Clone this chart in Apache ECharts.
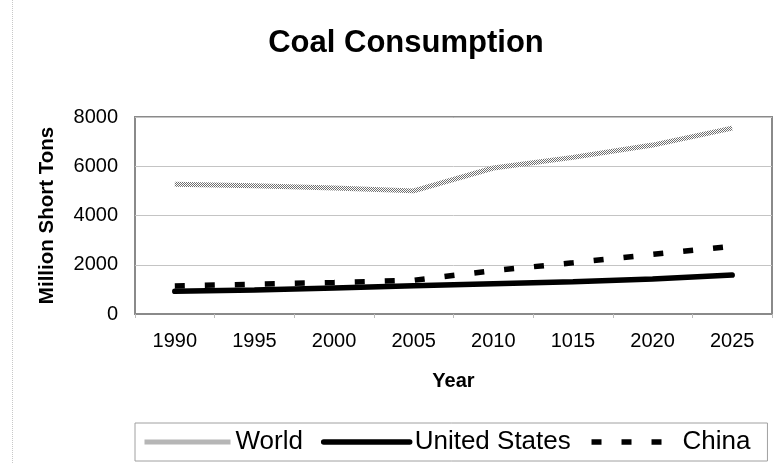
<!DOCTYPE html>
<html>
<head>
<meta charset="utf-8">
<script src="https://cdn.jsdelivr.net/npm/echarts@6/dist/echarts.min.js"></script>
<style>
  html, body { margin: 0; padding: 0; background: #fff; }
  #chart { width: 778px; height: 464px; }
</style>
</head>
<body>
<div id="chart"></div>
<script>
// Coal consumption, million short tons
const years = ['1990', '1995', '2000', '2005', '2010', '1015', '2020', '2025'];
const world = [5270, 5210, 5120, 5000, 5930, 6360, 6860, 7550];
const unitedStates = [920, 970, 1060, 1150, 1230, 1310, 1420, 1580];
const china = [1140, 1210, 1280, 1370, 1760, 2080, 2420, 2750];
const yTicks = [0, 2000, 4000, 6000, 8000];

const FONT = '"Liberation Sans", Arial, sans-serif';

// Speckled grey texture for the World line
function speckle() {
  const c = document.createElement('canvas');
  c.width = 2; c.height = 2;
  const g = c.getContext('2d');
  g.fillStyle = '#ffffff';
  g.fillRect(0, 0, 2, 2);
  g.fillStyle = '#6e6e6e';
  g.fillRect(0, 0, 1, 1);
  g.fillRect(1, 1, 1, 1);
  return c;
}
const worldColor = { image: speckle(), repeat: 'repeat' };

const chart = echarts.init(document.getElementById('chart'), null, { renderer: 'canvas' });

chart.setOption({
  backgroundColor: '#ffffff',
  animation: false,
  title: {
    text: 'Coal Consumption',
    left: 401, top: 23, textAlign: 'center',
    textStyle: { fontFamily: FONT, fontSize: 31, fontWeight: 'bold', color: '#000' }
  },
  graphic: [{
    type: 'line',
    shape: { x1: 12.5, y1: 0, x2: 12.5, y2: 464 },
    style: { stroke: '#c8c8c8', lineWidth: 1, lineDash: [1, 1] },
    silent: true
  }],
  grid: {
    left: 135, right: 6, top: 117, bottom: 150,
    show: true, borderColor: '#8a8a8a', borderWidth: 2, backgroundColor: '#fff'
  },
  legend: {
    left: 135, top: 423,
    padding: [6, 17, 6, 7],
    borderColor: '#a0a0a0', borderWidth: 1,
    itemWidth: 86, itemHeight: 14, itemGap: 18,
    itemStyle: { opacity: 0 },
    lineStyle: { width: 'inherit', type: 'inherit' },
    textStyle: { fontFamily: FONT, fontSize: 26, color: '#000' },
    data: ['World', 'United States', 'China']
  },
  xAxis: {
    type: 'category',
    data: years,
    boundaryGap: true,
    name: 'Year',
    nameLocation: 'middle',
    nameGap: 57,
    nameTextStyle: { fontFamily: FONT, fontSize: 20, fontWeight: 'bold', color: '#000' },
    axisLine: { show: true, lineStyle: { color: '#8a8a8a', width: 2 } },
    axisTick: { show: true, length: 4, lineStyle: { color: '#bbb' } },
    axisLabel: { fontFamily: FONT, fontSize: 20, color: '#000', margin: 17 }
  },
  yAxis: {
    type: 'value',
    min: yTicks[0], max: yTicks[yTicks.length - 1], interval: 2000,
    name: 'Million Short Tons',
    nameLocation: 'middle',
    nameGap: 77,
    nameTextStyle: { fontFamily: FONT, fontSize: 20.5, fontWeight: 'bold', color: '#000' },
    axisLine: { show: false },
    axisTick: { show: false },
    splitLine: { show: true, lineStyle: { color: '#c4c4c4', width: 1 } },
    axisLabel: {
      fontFamily: FONT, fontSize: 20, color: '#000', margin: 17,
      formatter: v => String(v)
    }
  },
  series: [
    {
      name: 'World', type: 'line', data: world,
      showSymbol: false, symbol: 'none',
      color: worldColor,
      lineStyle: { color: worldColor, width: 5 }
    },
    {
      name: 'United States', type: 'line', data: unitedStates,
      showSymbol: false, symbol: 'none',
      color: '#000',
      lineStyle: { color: '#000', width: 5.5, cap: 'round' }
    },
    {
      name: 'China', type: 'line', data: china,
      showSymbol: false, symbol: 'none',
      color: '#000',
      lineStyle: { color: '#000', width: 5.5, type: [10, 20], cap: 'butt' }
    }
  ]
});
</script>
</body>
</html>
